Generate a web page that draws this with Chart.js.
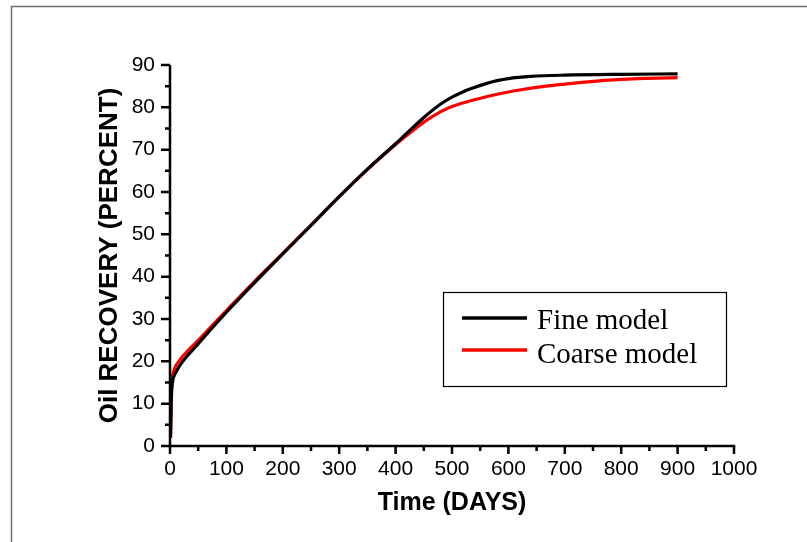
<!DOCTYPE html>
<html>
<head>
<meta charset="utf-8">
<script src="https://cdn.jsdelivr.net/npm/chart.js@4/dist/chart.umd.min.js"></script>
<style>
  html, body { margin: 0; padding: 0; background: #fff; }
  #wrap { width: 807px; height: 542px; }
</style>
</head>
<body>
<div id="wrap"><canvas id="c" width="807" height="542"></canvas></div>
<script>
// ---- data ----
const fineDays   = [1, 2, 3, 5, 8, 12, 20, 30, 45, 70, 100, 150, 200, 250, 300, 350, 400, 420, 450, 480, 500, 520, 540, 560, 580, 600, 640, 700, 800, 900];
const fineValues = [2, 9, 13, 15.5, 16.8, 17.8, 19.5, 21.2, 23.4, 27.2, 31.6, 38.6, 45.4, 52.1, 58.9, 65.4, 71.4, 73.9, 77.6, 80.8, 82.4, 83.7, 84.7, 85.6, 86.3, 86.8, 87.3, 87.6, 87.8, 87.9];

const coarseDays   = [1, 2, 3, 5, 8, 12, 20, 30, 45, 70, 100, 150, 200, 250, 300, 350, 400, 420, 450, 480, 500, 540, 580, 620, 660, 700, 730, 800, 900];
const coarseValues = [2, 11, 15, 17, 18.3, 19.3, 20.8, 22.3, 24.3, 27.8, 32, 38.9, 45.5, 52.2, 58.9, 65.3, 71.2, 73.4, 76.5, 79.0, 80.2, 81.8, 83.1, 84.1, 84.9, 85.5, 85.9, 86.6, 87.0];

const seriesNames = ['Fine model', 'Coarse model'];
const xTitle = 'Time (DAYS)';
const yTitle = 'Oil RECOVERY (PERCENT)';
const xMin = 0, xMax = 1000, xStep = 100;
const yMin = 0, yMax = 90, yStep = 10;

const toPoints = (xs, ys) => xs.map((x, i) => ({ x: x, y: ys[i] }));

// frame + axes + minor/major ticks + legend
const decor = {
  id: 'decor',
  beforeDraw(chart) {
    const ctx = chart.ctx;
    ctx.save();
    ctx.fillStyle = '#fff';
    ctx.fillRect(0, 0, chart.width, chart.height);
    ctx.strokeStyle = '#6e6e6e';
    ctx.lineWidth = 1.5;
    ctx.strokeRect(11.5, 6.5, 1000, 1000);
    ctx.restore();
  },
  afterDatasetsDraw(chart) {
    const ctx = chart.ctx;
    const xs = chart.scales.x, ys = chart.scales.y;
    const x0 = xs.getPixelForValue(xMin), x1 = xs.getPixelForValue(xMax);
    const y0 = ys.getPixelForValue(yMin), y1 = ys.getPixelForValue(yMax);
    ctx.save();
    ctx.strokeStyle = '#000';
    ctx.lineWidth = 2.5;
    ctx.lineCap = 'butt';
    ctx.beginPath();
    ctx.moveTo(x0, y1); ctx.lineTo(x0, y0 + 1.25);
    ctx.moveTo(x0 - 1.25, y0); ctx.lineTo(x1 + 1.25, y0);
    ctx.stroke();
    ctx.beginPath();
    for (let v = yMin; v <= yMax + 1e-9; v += yStep / 2) {
      const p = ys.getPixelForValue(v);
      const major = Math.abs(v / yStep - Math.round(v / yStep)) < 1e-6;
      ctx.moveTo(x0, p);
      ctx.lineTo(x0 - (major ? 9 : 5), p);
    }
    for (let v = xMin; v <= xMax + 1e-9; v += xStep / 2) {
      const p = xs.getPixelForValue(v);
      const major = Math.abs(v / xStep - Math.round(v / xStep)) < 1e-6;
      ctx.moveTo(p, y0);
      ctx.lineTo(p, y0 + (major ? 8 : 5));
    }
    ctx.stroke();

    // legend
    const bx = 443.5, by = 292.5, bw = 283, bh = 94;
    ctx.fillStyle = '#fff';
    ctx.fillRect(bx, by, bw, bh);
    ctx.lineWidth = 1.2;
    ctx.strokeStyle = '#000';
    ctx.strokeRect(bx, by, bw, bh);
    const rowsY = [318, 350];
    const baseY = [329, 363];
    chart.data.datasets.forEach((ds, i) => {
      ctx.strokeStyle = ds.borderColor;
      ctx.lineWidth = 3.5;
      ctx.beginPath();
      ctx.moveTo(462, rowsY[i]);
      ctx.lineTo(527, rowsY[i]);
      ctx.stroke();
      ctx.fillStyle = '#000';
      ctx.font = '29px "Liberation Serif", "Times New Roman", serif';
      ctx.textBaseline = 'alphabetic';
      ctx.textAlign = 'left';
      ctx.fillText(ds.label, 537, baseY[i]);
    });
    ctx.restore();
  }
};

new Chart(document.getElementById('c'), {
  type: 'line',
  data: {
    datasets: [
      {
        label: seriesNames[0],
        data: toPoints(fineDays, fineValues),
        borderColor: '#000000',
        backgroundColor: '#000000',
        borderWidth: 3.2,
        pointRadius: 0,
        cubicInterpolationMode: 'monotone',
        fill: false
      },
      {
        label: seriesNames[1],
        data: toPoints(coarseDays, coarseValues),
        borderColor: '#ff0000',
        backgroundColor: '#ff0000',
        borderWidth: 3.2,
        pointRadius: 0,
        cubicInterpolationMode: 'monotone',
        fill: false
      }
    ]
  },
  options: {
    responsive: false,
    animation: false,
    events: [],
    layout: { padding: { left: 0, top: 65, right: 73, bottom: 0 } },
    plugins: {
      legend: { display: false },
      tooltip: { enabled: false },
      title: { display: false }
    },
    scales: {
      x: {
        type: 'linear',
        position: 'bottom',
        min: xMin, max: xMax,
        grid: { display: false, drawTicks: false },
        border: { display: false },
        ticks: {
          stepSize: xStep,
          autoSkip: false,
          maxRotation: 0,
          padding: 11,
          color: '#000',
          font: { family: '"Liberation Sans", Arial, sans-serif', size: 21 },
          callback: (v) => String(v)
        },
        title: {
          display: true,
          text: xTitle,
          color: '#000',
          font: { family: '"Liberation Sans", Arial, sans-serif', size: 25, weight: 'bold' },
          padding: { top: 0, bottom: 24 }
        },
        afterFit(scale) { scale.height = 96; }
      },
      y: {
        type: 'linear',
        min: yMin, max: yMax,
        grid: { display: false, drawTicks: false },
        border: { display: false },
        ticks: {
          stepSize: yStep,
          padding: 15,
          color: '#000',
          font: { family: '"Liberation Sans", Arial, sans-serif', size: 21 },
          callback: (v) => String(v)
        },
        title: {
          display: true,
          text: yTitle,
          color: '#000',
          font: { family: '"Liberation Sans", Arial, sans-serif', size: 26, weight: 'bold' },
          padding: { top: 94, bottom: 0 }
        },
        afterFit(scale) { scale.width = 170; }
      }
    }
  },
  plugins: [decor]
});
</script>
</body>
</html>
